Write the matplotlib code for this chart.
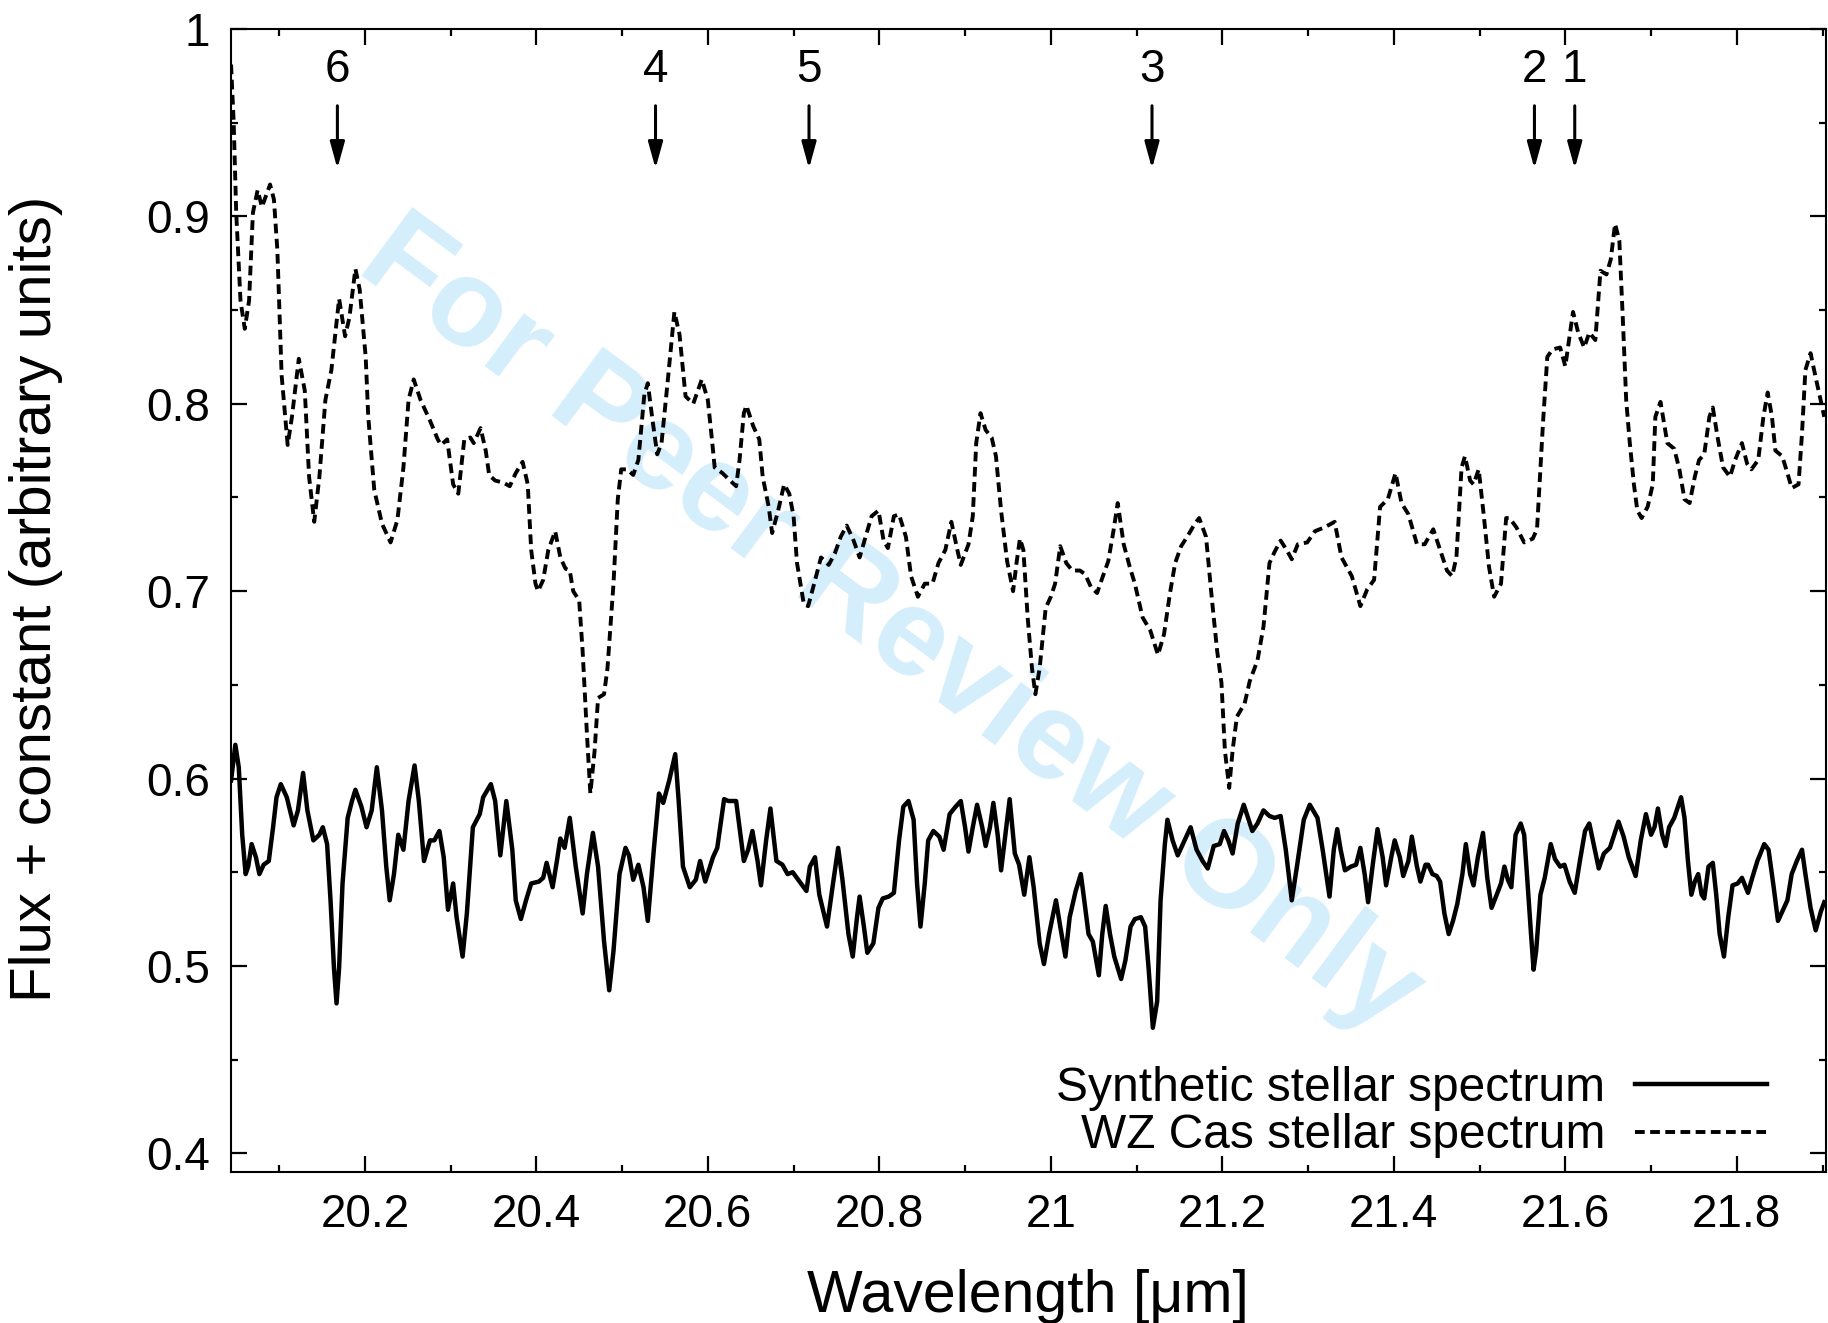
import matplotlib
matplotlib.use('Agg')
import matplotlib.pyplot as plt
from matplotlib.ticker import MultipleLocator, FuncFormatter

plt.rcParams['font.family'] = ['Liberation Sans', 'DejaVu Sans']

# WZ Cas observed spectrum (dashed)
wz_wl = [20.044, 20.047, 20.050, 20.055, 20.060, 20.065, 20.0695, 20.075, 20.080, 20.0895,
         20.094, 20.098, 20.103, 20.110, 20.115, 20.123, 20.130, 20.135, 20.141, 20.147,
         20.154, 20.161, 20.170, 20.177, 20.182, 20.189, 20.194, 20.201, 20.204, 20.211,
         20.220, 20.230, 20.238, 20.245, 20.251, 20.257, 20.265, 20.276, 20.285, 20.289,
         20.296, 20.303, 20.309, 20.316, 20.323, 20.327, 20.335, 20.341, 20.345, 20.352,
         20.361, 20.369, 20.376, 20.384, 20.390, 20.394, 20.399, 20.402, 20.408, 20.414,
         20.422, 20.428, 20.434, 20.439, 20.443, 20.450, 20.454, 20.459, 20.463, 20.468,
         20.472, 20.479, 20.483, 20.490, 20.495, 20.499, 20.506, 20.513, 20.519, 20.526,
         20.530, 20.535, 20.541, 20.546, 20.553, 20.557, 20.561, 20.567, 20.574, 20.583,
         20.593, 20.600, 20.605, 20.608, 20.617, 20.626, 20.633, 20.637, 20.642, 20.645,
         20.653, 20.660, 20.664, 20.671, 20.675, 20.682, 20.689, 20.695, 20.700, 20.704,
         20.712, 20.717, 20.724, 20.732, 20.741, 20.748, 20.755, 20.762, 20.770, 20.777,
         20.784, 20.791, 20.799, 20.805, 20.810, 20.817, 20.823, 20.831, 20.837, 20.845,
         20.853, 20.862, 20.869, 20.877, 20.884, 20.891, 20.895, 20.904, 20.909, 20.913,
         20.918, 20.924, 20.931, 20.936, 20.942, 20.949, 20.956, 20.960, 20.964, 20.968,
         20.973, 20.978, 20.982, 20.987, 20.994, 21.000, 21.005, 21.011, 21.018, 21.025,
         21.034, 21.040, 21.047, 21.054, 21.060, 21.067, 21.073, 21.078, 21.085, 21.092,
         21.098, 21.107, 21.116, 21.125, 21.132, 21.139, 21.145, 21.152, 21.159, 21.168,
         21.173, 21.181, 21.188, 21.194, 21.199, 21.203, 21.208, 21.212, 21.217, 21.226,
         21.232, 21.241, 21.248, 21.255, 21.261, 21.268, 21.275, 21.281, 21.288, 21.299,
         21.308, 21.319, 21.331, 21.339, 21.351, 21.361, 21.369, 21.377, 21.384, 21.393,
         21.402, 21.409, 21.417, 21.427, 21.436, 21.446, 21.454, 21.462, 21.468, 21.473,
         21.479, 21.483, 21.489, 21.493, 21.499, 21.505, 21.511, 21.517, 21.525, 21.531,
         21.535, 21.543, 21.552, 21.562, 21.567, 21.570, 21.574, 21.579, 21.585, 21.594,
         21.600, 21.605, 21.609, 21.615, 21.622, 21.628, 21.635, 21.641, 21.648, 21.653,
         21.658, 21.663, 21.667, 21.671, 21.675, 21.680, 21.684, 21.689, 21.696, 21.702,
         21.705, 21.711, 21.715, 21.719, 21.727, 21.733, 21.739, 21.745, 21.751, 21.756,
         21.762, 21.768, 21.772, 21.778, 21.784, 21.792, 21.798, 21.806, 21.812, 21.817,
         21.825, 21.831, 21.836, 21.841, 21.845, 21.853, 21.859, 21.864, 21.872, 21.876,
         21.880, 21.886, 21.892, 21.902]
wz_flux = [0.981, 0.951, 0.902, 0.855, 0.840, 0.855, 0.902, 0.914, 0.905, 0.917,
           0.909, 0.882, 0.815, 0.778, 0.793, 0.824, 0.807, 0.761, 0.737, 0.761,
           0.802, 0.818, 0.856, 0.836, 0.846, 0.872, 0.861, 0.825, 0.793, 0.754,
           0.736, 0.726, 0.738, 0.766, 0.802, 0.813, 0.802, 0.791, 0.781, 0.778,
           0.781, 0.757, 0.752, 0.781, 0.782, 0.779, 0.787, 0.775, 0.762, 0.759,
           0.758, 0.756, 0.763, 0.769, 0.757, 0.722, 0.704, 0.700, 0.706, 0.722,
           0.732, 0.718, 0.712, 0.711, 0.700, 0.695, 0.668, 0.624, 0.592, 0.615,
           0.643, 0.645, 0.659, 0.704, 0.749, 0.765, 0.765, 0.762, 0.770, 0.805,
           0.811, 0.793, 0.773, 0.779, 0.811, 0.830, 0.849, 0.837, 0.804, 0.800,
           0.813, 0.802, 0.780, 0.766, 0.763, 0.759, 0.756, 0.770, 0.795, 0.799,
           0.788, 0.781, 0.761, 0.745, 0.731, 0.743, 0.757, 0.752, 0.740, 0.715,
           0.693, 0.692, 0.704, 0.718, 0.714, 0.720, 0.729, 0.735, 0.727, 0.718,
           0.729, 0.740, 0.743, 0.727, 0.723, 0.740, 0.741, 0.729, 0.708, 0.697,
           0.704, 0.704, 0.715, 0.722, 0.737, 0.722, 0.714, 0.725, 0.740, 0.779,
           0.795, 0.786, 0.782, 0.772, 0.743, 0.716, 0.700, 0.715, 0.728, 0.722,
           0.686, 0.659, 0.645, 0.659, 0.691, 0.697, 0.704, 0.724, 0.715, 0.711,
           0.711, 0.709, 0.702, 0.699, 0.707, 0.716, 0.732, 0.747, 0.725, 0.713,
           0.704, 0.686, 0.679, 0.666, 0.677, 0.699, 0.715, 0.724, 0.729, 0.736,
           0.739, 0.729, 0.695, 0.668, 0.651, 0.615, 0.595, 0.615, 0.633, 0.640,
           0.652, 0.663, 0.681, 0.715, 0.721, 0.727, 0.722, 0.717, 0.725, 0.726,
           0.732, 0.734, 0.737, 0.718, 0.708, 0.692, 0.701, 0.706, 0.745, 0.749,
           0.763, 0.747, 0.741, 0.725, 0.725, 0.733, 0.722, 0.711, 0.708, 0.718,
           0.766, 0.772, 0.759, 0.757, 0.765, 0.740, 0.713, 0.697, 0.704, 0.739,
           0.739, 0.734, 0.726, 0.728, 0.733, 0.757, 0.790, 0.825, 0.829, 0.830,
           0.820, 0.836, 0.849, 0.838, 0.830, 0.838, 0.834, 0.871, 0.869, 0.877,
           0.896, 0.887, 0.846, 0.802, 0.780, 0.757, 0.743, 0.739, 0.745, 0.757,
           0.793, 0.801, 0.790, 0.779, 0.776, 0.765, 0.749, 0.747, 0.761, 0.770,
           0.773, 0.793, 0.798, 0.781, 0.766, 0.761, 0.770, 0.779, 0.768, 0.765,
           0.770, 0.793, 0.806, 0.793, 0.775, 0.772, 0.763, 0.755, 0.757, 0.784,
           0.818, 0.827, 0.814, 0.793]

# synthetic stellar spectrum (solid)
syn_wl = [20.044, 20.049, 20.053, 20.057, 20.061, 20.064, 20.068, 20.073, 20.077, 20.082,
          20.088, 20.093, 20.097, 20.102, 20.109, 20.117, 20.122, 20.128, 20.133, 20.140,
          20.147, 20.151, 20.156, 20.160, 20.164, 20.167, 20.170, 20.174, 20.180, 20.185,
          20.189, 20.196, 20.202, 20.208, 20.214, 20.220, 20.225, 20.229, 20.234, 20.239,
          20.245, 20.251, 20.258, 20.263, 20.269, 20.276, 20.281, 20.287, 20.292, 20.297,
          20.303, 20.307, 20.314, 20.319, 20.326, 20.334, 20.338, 20.347, 20.352, 20.358,
          20.365, 20.372, 20.376, 20.382, 20.388, 20.394, 20.403, 20.408, 20.412, 20.419,
          20.424, 20.428, 20.433, 20.439, 20.446, 20.454, 20.459, 20.466, 20.472, 20.479,
          20.485, 20.490, 20.497, 20.504, 20.508, 20.513, 20.519, 20.525, 20.530, 20.537,
          20.543, 20.548, 20.555, 20.562, 20.566, 20.571, 20.579, 20.586, 20.591, 20.597,
          20.606, 20.611, 20.619, 20.624, 20.633, 20.642, 20.647, 20.652, 20.658, 20.662,
          20.668, 20.673, 20.680, 20.687, 20.693, 20.699, 20.715, 20.719, 20.725, 20.730,
          20.739, 20.746, 20.752, 20.757, 20.764, 20.769, 20.774, 20.777, 20.782, 20.786,
          20.793, 20.799, 20.804, 20.811, 20.817, 20.823, 20.828, 20.834, 20.840, 20.844,
          20.848, 20.853, 20.857, 20.863, 20.870, 20.875, 20.882, 20.889, 20.895, 20.900,
          20.904, 20.909, 20.914, 20.920, 20.924, 20.929, 20.933, 20.938, 20.942, 20.947,
          20.952, 20.958, 20.963, 20.969, 20.975, 20.980, 20.987, 20.992, 20.998, 21.006,
          21.011, 21.017, 21.022, 21.029, 21.035, 21.039, 21.044, 21.049, 21.056, 21.060,
          21.064, 21.069, 21.074, 21.082, 21.087, 21.093, 21.098, 21.105, 21.110, 21.114,
          21.118, 21.119, 21.124, 21.128, 21.133, 21.136, 21.142, 21.148, 21.154, 21.163,
          21.170, 21.177, 21.183, 21.190, 21.197, 21.202, 21.207, 21.212, 21.218, 21.225,
          21.230, 21.235, 21.241, 21.248, 21.255, 21.261, 21.268, 21.274, 21.281, 21.287,
          21.295, 21.302, 21.311, 21.317, 21.325, 21.330, 21.334, 21.338, 21.343, 21.350,
          21.356, 21.361, 21.366, 21.370, 21.376, 21.381, 21.387, 21.391, 21.397, 21.401,
          21.407, 21.411, 21.417, 21.421, 21.427, 21.431, 21.437, 21.440, 21.445, 21.450,
          21.454, 21.459, 21.464, 21.469, 21.474, 21.480, 21.484, 21.489, 21.493, 21.498,
          21.504, 21.509, 21.514, 21.520, 21.525, 21.529, 21.533, 21.537, 21.542, 21.548,
          21.552, 21.556, 21.560, 21.563, 21.566, 21.571, 21.576, 21.583, 21.588, 21.594,
          21.599, 21.605, 21.611, 21.617, 21.623, 21.628, 21.633, 21.639, 21.645, 21.652,
          21.657, 21.662, 21.668, 21.674, 21.682, 21.688, 21.694, 21.700, 21.704, 21.708,
          21.713, 21.717, 21.721, 21.727, 21.735, 21.739, 21.743, 21.747, 21.751, 21.755,
          21.759, 21.762, 21.767, 21.772, 21.776, 21.780, 21.785, 21.790, 21.795, 21.801,
          21.806, 21.813, 21.818, 21.824, 21.832, 21.837, 21.843, 21.848, 21.853, 21.859,
          21.864, 21.870, 21.876, 21.880, 21.886, 21.892, 21.898, 21.902]
syn_flux = [0.599, 0.618, 0.606, 0.570, 0.549, 0.553, 0.565, 0.558, 0.549, 0.554,
            0.556, 0.574, 0.590, 0.597, 0.590, 0.575, 0.583, 0.603, 0.583, 0.567,
            0.570, 0.574, 0.565, 0.535, 0.499, 0.480, 0.499, 0.544, 0.579, 0.588,
            0.594, 0.585, 0.574, 0.583, 0.606, 0.583, 0.553, 0.535, 0.549, 0.570,
            0.562, 0.588, 0.607, 0.588, 0.556, 0.567, 0.567, 0.572, 0.558, 0.530,
            0.544, 0.526, 0.505, 0.528, 0.574, 0.581, 0.590, 0.597, 0.588, 0.559,
            0.588, 0.562, 0.535, 0.525, 0.535, 0.544, 0.545, 0.547, 0.555, 0.542,
            0.556, 0.568, 0.563, 0.579, 0.553, 0.528, 0.549, 0.571, 0.553, 0.513,
            0.487, 0.508, 0.549, 0.563, 0.559, 0.546, 0.554, 0.542, 0.524, 0.562,
            0.592, 0.587, 0.599, 0.613, 0.588, 0.553, 0.542, 0.546, 0.556, 0.545,
            0.558, 0.563, 0.589, 0.588, 0.588, 0.556, 0.562, 0.572, 0.556, 0.543,
            0.567, 0.584, 0.556, 0.554, 0.549, 0.550, 0.540, 0.553, 0.558, 0.538,
            0.521, 0.544, 0.563, 0.546, 0.517, 0.505, 0.526, 0.537, 0.521, 0.507,
            0.512, 0.531, 0.536, 0.537, 0.539, 0.567, 0.585, 0.588, 0.578, 0.544,
            0.521, 0.544, 0.567, 0.572, 0.569, 0.562, 0.581, 0.585, 0.588, 0.574,
            0.561, 0.574, 0.586, 0.574, 0.564, 0.574, 0.587, 0.570, 0.551, 0.570,
            0.589, 0.560, 0.554, 0.538, 0.558, 0.542, 0.512, 0.501, 0.517, 0.535,
            0.521, 0.505, 0.526, 0.540, 0.549, 0.535, 0.517, 0.513, 0.495, 0.517,
            0.532, 0.517, 0.505, 0.493, 0.503, 0.521, 0.525, 0.526, 0.521, 0.499,
            0.473, 0.467, 0.481, 0.535, 0.565, 0.578, 0.567, 0.559, 0.565, 0.574,
            0.562, 0.556, 0.552, 0.564, 0.565, 0.572, 0.567, 0.560, 0.576, 0.586,
            0.579, 0.572, 0.576, 0.583, 0.580, 0.579, 0.580, 0.562, 0.535, 0.553,
            0.578, 0.586, 0.579, 0.562, 0.537, 0.562, 0.573, 0.562, 0.551, 0.553,
            0.554, 0.563, 0.549, 0.534, 0.556, 0.573, 0.558, 0.543, 0.558, 0.567,
            0.558, 0.548, 0.556, 0.569, 0.553, 0.545, 0.554, 0.554, 0.549, 0.548,
            0.545, 0.528, 0.517, 0.524, 0.533, 0.549, 0.565, 0.549, 0.543, 0.558,
            0.571, 0.547, 0.531, 0.538, 0.544, 0.553, 0.546, 0.542, 0.570, 0.576,
            0.570, 0.544, 0.517, 0.498, 0.508, 0.538, 0.547, 0.565, 0.557, 0.553,
            0.554, 0.545, 0.539, 0.556, 0.572, 0.576, 0.565, 0.552, 0.560, 0.563,
            0.570, 0.577, 0.569, 0.558, 0.548, 0.567, 0.581, 0.570, 0.574, 0.584,
            0.570, 0.564, 0.574, 0.579, 0.590, 0.579, 0.556, 0.538, 0.545, 0.549,
            0.538, 0.536, 0.553, 0.555, 0.538, 0.517, 0.505, 0.526, 0.543, 0.544,
            0.547, 0.539, 0.547, 0.556, 0.565, 0.562, 0.542, 0.524, 0.529, 0.535,
            0.549, 0.556, 0.562, 0.549, 0.531, 0.519, 0.529, 0.534]

# marked features
line_ids = ['6', '4', '5', '3', '2', '1']
line_wl = [20.168, 20.539, 20.718, 21.118, 21.564, 21.611]

fig = plt.figure(figsize=(18.28, 13.23), dpi=100)
ax = fig.add_axes([0.1264, 0.1141, 0.8725, 0.864])

# watermark
ax.text(0.487, 0.526, 'For Peer Review Only', transform=fig.transFigure,
        fontsize=90, fontweight='bold', color='#d5eefb', rotation=-36.5,
        ha='center', va='center', zorder=0)

l_wz, = ax.plot(wz_wl, wz_flux, color='k', lw=2.8, dashes=(2.5, 1.4),
                label='WZ Cas stellar spectrum', zorder=2)
l_syn, = ax.plot(syn_wl, syn_flux, color='k', lw=3.2, solid_joinstyle='round',
                 label='Synthetic stellar spectrum', zorder=3)

for lab, w in zip(line_ids, line_wl):
    ax.annotate('', xy=(w, 0.9255), xytext=(w, 0.959),
                arrowprops=dict(arrowstyle='-|>,head_length=0.8,head_width=0.22',
                                color='k', lw=2.2, mutation_scale=20,
                                shrinkA=0, shrinkB=0))
    ax.text(w, 0.9717, lab, fontsize=33, ha='center', va='baseline')

ax.set_xlim(20.044, 21.904)
ax.set_ylim(0.39, 1.0)
ax.xaxis.set_major_locator(MultipleLocator(0.2))
ax.xaxis.set_minor_locator(MultipleLocator(0.1))
ax.yaxis.set_major_locator(MultipleLocator(0.1))
ax.yaxis.set_minor_locator(MultipleLocator(0.05))
fmt = FuncFormatter(lambda v, p: '%g' % round(v, 3))
ax.xaxis.set_major_formatter(fmt)
ax.yaxis.set_major_formatter(fmt)
ax.tick_params(which='both', direction='in', top=True, right=True, width=1.6,
               labelsize=33, pad=15)
ax.tick_params(which='major', length=11.5)
ax.tick_params(which='minor', length=5)
for s in ax.spines.values():
    s.set_linewidth(1.5)

fig.text(0.5626, 0.0204, 'Wavelength [μm]', fontsize=42.5, ha='center', va='center')
fig.text(0.0197, 0.547, 'Flux + constant (arbitrary units)', fontsize=42,
         rotation=90, ha='center', va='center')

ax.legend(handles=[l_syn, l_wz], loc='lower right', bbox_to_anchor=(0.963, 0.012),
          frameon=False, markerfirst=False, fontsize=34.5, handlelength=2.75,
          handletextpad=0.63, labelspacing=0.05, borderpad=0, borderaxespad=0)

fig.savefig('out.png', dpi=100)
